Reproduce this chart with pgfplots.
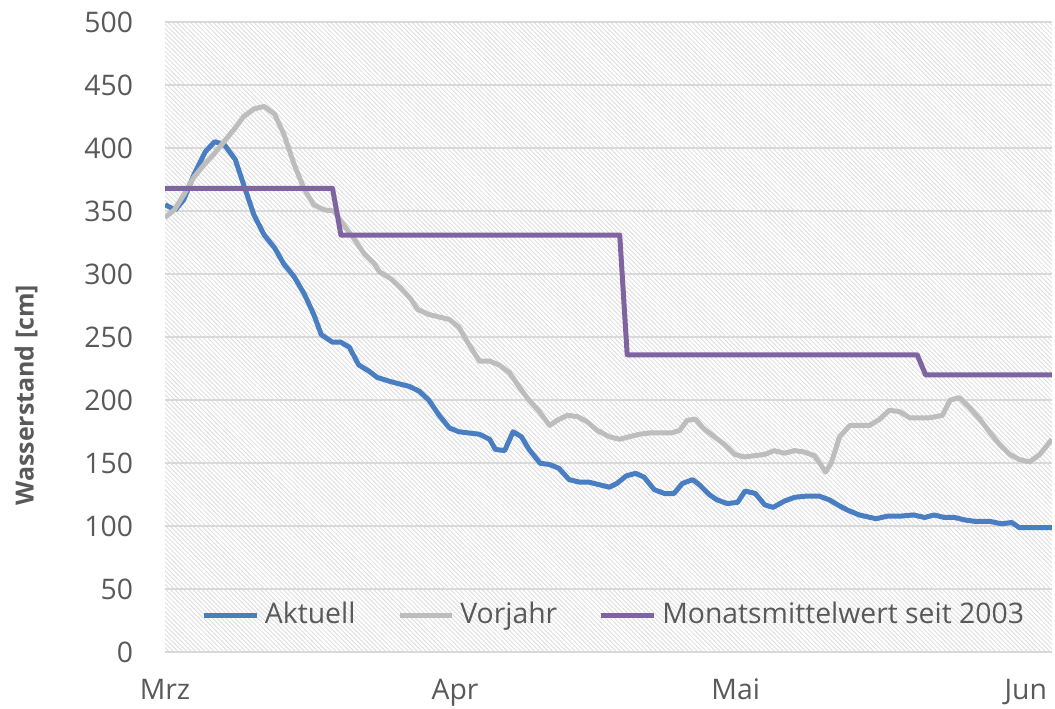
\documentclass[border=0pt]{standalone}
\usepackage{pgfplots}
\pgfplotsset{compat=1.18}
\usepackage{fontspec}
\setmainfont{Open Sans}
\usetikzlibrary{patterns.meta}
\definecolor{txt}{HTML}{595959}
\definecolor{gridc}{HTML}{D9D9D9}
\definecolor{cblue}{HTML}{4A7EC2}
\definecolor{cgrey}{HTML}{BDBDBD}
\definecolor{cpurple}{HTML}{8064A2}
\definecolor{hatch}{HTML}{DCDCDC}

\pgfplotstableread{
x y
0 355
1.1 351
2.0 359
3.1 379
4.3 397
5.3 405
6.3 403
7.5 391
8.4 371
9.5 347
10.6 331
11.7 321
12.7 308
13.8 298
14.9 284
15.9 268
16.7 252
17.9 246
18.8 246
19.7 242
20.7 228
21.8 223
22.7 218
24.0 215
25.0 213
26.1 211
27.2 207
28.2 200
29.3 188
30.4 178
31.4 175
32.5 174
33.6 173
34.7 169
35.3 161
36.3 160
37.2 175
38.1 171
38.9 161
40.1 150
41.1 149
42.1 146
43.2 137
44.3 135
45.3 135
46.4 133
47.5 131
48.3 134
49.3 140
50.3 142
51.2 139
52.3 129
53.4 126
54.4 126
55.3 134
56.4 137
57.1 133
58.2 125
59.0 121
60.1 118
61.2 119
62.0 128
63.1 126
64.1 117
65.0 115
66.2 120
67.3 123
68.6 124
69.9 124
71.0 121
71.9 117
72.9 113
74.2 109
76.0 106
77.2 108
78.5 108
80.0 109
81.2 107
82.2 109
83.3 107
84.4 107
85.5 105
86.5 104
88.1 104
89.4 102
90.5 103
91.3 99
94.8 99
}\aktuell

\pgfplotstableread{
x y
0 345
1.0 351
2.0 363
3.1 377
4.2 387
5.2 395
6.3 405
7.4 415
8.4 425
9.5 431
10.6 433
11.7 427
12.7 411
13.8 387
14.9 367
15.9 355
17.0 351
18.1 350
19.1 339
20.2 328
21.3 316
22.4 308
22.9 302
24.2 296
25.2 289
26.3 280
27.0 272
28.2 268
29.3 266
30.4 264
31.4 258
32.5 244
33.6 231
34.7 231
35.7 228
36.8 222
37.9 210
38.9 200
40.0 191
41.1 180
41.9 184
43.0 188
44.1 187
45.1 183
46.2 176
47.5 171
48.6 169
49.6 171
50.7 173
51.8 174
53.0 174
54.1 174
55.0 176
55.8 184
56.7 185
57.5 178
58.7 171
59.8 165
60.9 157
61.9 155
63.0 156
64.1 157
65.1 160
66.2 158
67.3 160
68.3 159
69.4 156
69.9 151
70.6 143
71.2 150
72.1 171
73.2 180
74.2 180
75.3 180
76.4 185
77.4 192
78.5 191
79.6 186
80.6 186
81.7 186
83.1 188
83.9 200
84.9 202
86.0 194
87.1 185
88.1 175
89.2 165
90.3 157
91.3 153
92.4 151
93.5 157
94.8 169
}\vorjahr

\pgfplotstableread{
x y
0 368
17.9 368
18.8 331
48.6 331
49.4 236
80.4 236
81.3 220
94.8 220
}\mittel

\begin{document}
\begin{tikzpicture}
\begin{axis}[
  scale only axis,
  width=319.2pt, height=226.9pt,
  xmin=0, xmax=94.8,
  ymin=0, ymax=500,
  xtick={0,31,61,92},
  xticklabels={Mrz,Apr,Mai,Jun},
  ytick={0,50,...,500},
  ymajorgrids,
  grid style={gridc, line width=0.7pt},
  axis line style={draw=none},
  tick style={draw=none},
  tick label style={font=\fontsize{10.2}{12}\selectfont, text=txt},
  /pgf/number format/assume math mode=true,
  yticklabel style={xshift=-8pt},
  xticklabel style={yshift=-6pt},
  axis background/.style={pattern={Lines[angle=-45,distance=1.15pt,line width=0.3pt]}, pattern color=hatch},
  legend style={at={(0.508,0.059)}, anchor=center, draw=none, fill=none,
    font=\fontsize{10.2}{12}\selectfont, text=txt,
    legend columns=3,
    /tikz/every even column/.append style={column sep=13pt},
    inner sep=0pt},
  legend cell align=left,
  legend image code/.code={\draw[#1, line width=1.8pt] (0pt,0pt) -- (19pt,0pt);},
]
\addplot[cblue, line width=1.8pt, line join=round] table[x=x,y=y] {\aktuell};
\addlegendentry{Aktuell}
\addplot[cgrey, line width=1.8pt, line join=round] table[x=x,y=y] {\vorjahr};
\addlegendentry{Vorjahr}
\addplot[cpurple, line width=1.8pt, line join=round] table[x=x,y=y] {\mittel};
\addlegendentry{Monatsmittelwert seit 2003}
\coordinate (ll) at (rel axis cs:0,0);
\coordinate (ur) at (rel axis cs:1,1);
\coordinate (yl) at (rel axis cs:0,0.408);
\end{axis}
\node[rotate=90, font=\bfseries\fontsize{9}{11}\selectfont, text=txt] at ([xshift=-50pt]yl) {Wasserstand [cm]};
\pgfresetboundingbox
\path[use as bounding box] ([shift={(-59.4pt,-20.2pt)}]ll) rectangle ([shift={(1.1pt,7.9pt)}]ur);
\end{tikzpicture}
\end{document}
